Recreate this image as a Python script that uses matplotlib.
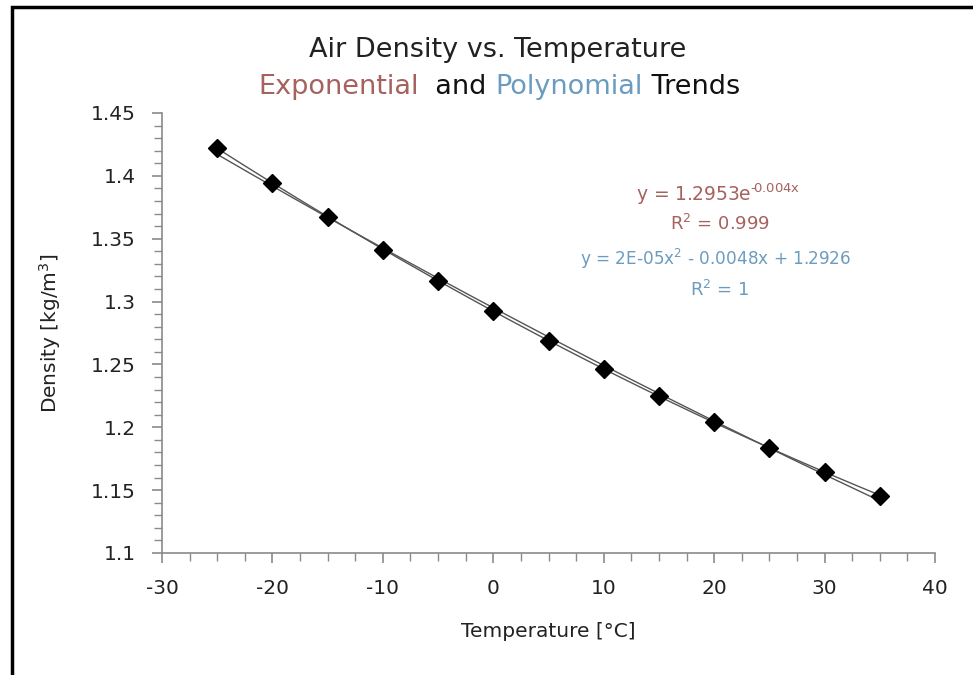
import matplotlib.pyplot as plt
from matplotlib.patches import Rectangle
from matplotlib.ticker import MultipleLocator
import numpy as np

# data
temps = [-25, -20, -15, -10, -5, 0, 5, 10, 15, 20, 25, 30, 35]
density = [1.4224, 1.3943, 1.3673, 1.3413, 1.3163, 1.2922, 1.2690,
           1.2466, 1.2250, 1.2041, 1.1839, 1.1644, 1.1455]

exp_label = 'y = 1.2953e$^{\u2010\\!0.004x}$'
exp_r2 = 'R$^2$ = 0.999'
poly_label = 'y = 2E-05x$^2$ - 0.0048x + 1.2926'
poly_r2 = 'R$^2$ = 1'

RED = '#a5625f'
BLUE = '#6b9cc0'
AXIS = '#8a8a8a'
TXT = '#222222'

plt.rcParams['font.family'] = ['DejaVu Sans']
plt.rcParams['axes.unicode_minus'] = False
plt.rcParams['mathtext.default'] = 'regular'

fig = plt.figure(figsize=(9.73, 6.75), dpi=100)
ax = fig.add_axes([162 / 973, 122 / 675, (935 - 162) / 973, (553 - 113) / 675])

x = np.array(temps, dtype=float)
y = np.array(density)

# trend lines fitted like Excel does
xs = np.linspace(x.min(), x.max(), 200)
b, a = np.polyfit(x, np.log(y), 1)
ax.plot(xs, np.exp(a) * np.exp(b * xs), color='#555555', lw=1.0, zorder=2)
p = np.polyfit(x, y, 2)
ax.plot(xs, np.polyval(p, xs), color='#555555', lw=1.0, zorder=2)

ax.plot(x, y, linestyle='none', marker='D', markersize=9.5,
        color='black', zorder=3)

ax.set_xlim(-30, 40)
ax.set_ylim(1.1, 1.45)
ax.xaxis.set_major_locator(MultipleLocator(10))
ax.xaxis.set_minor_locator(MultipleLocator(2.5))
ax.yaxis.set_major_locator(MultipleLocator(0.05))
ax.yaxis.set_minor_locator(MultipleLocator(0.01))
ax.yaxis.set_major_formatter(plt.FuncFormatter(lambda v, _: f'{v:.2f}'.rstrip('0').rstrip('.')))

for side in ['top', 'right']:
    ax.spines[side].set_visible(False)
for side in ['left', 'bottom']:
    ax.spines[side].set_color(AXIS)
    ax.spines[side].set_linewidth(1.2)
ax.tick_params(which='major', length=7, width=1.2, color=AXIS,
               labelsize=14.5, labelcolor=TXT, pad=12)
ax.tick_params(which='minor', length=6, width=1.0, color=AXIS)

ax.set_xlabel('Temperature [°C]', fontsize=14.5, color=TXT, labelpad=17)
ax.set_ylabel('Density [kg/m$^3$]', fontsize=14.5, color=TXT, labelpad=20)

# equations
fig.text(0.738, 0.7126, exp_label, ha='center', va='center', fontsize=13.5, color=RED)
fig.text(0.740, 0.668, exp_r2, ha='center', va='center', fontsize=13, color=RED)
fig.text(0.735, 0.616, poly_label, ha='center', va='center', fontsize=12.2, color=BLUE)
fig.text(0.740, 0.570, poly_r2, ha='center', va='center', fontsize=13, color=BLUE)

# titles
fig.text(0.511, 0.926, 'Air Density vs. Temperature', ha='center', va='center',
         fontsize=19.5, color=TXT)
parts = [('Exponential', RED), ('  and ', '#111111'),
         ('Polynomial', BLUE), (' Trends', '#111111')]
fig.canvas.draw()
renderer = fig.canvas.get_renderer()
widths = []
texts = []
for s, c in parts:
    t = fig.text(0, 0.871, s, ha='left', va='center', fontsize=19.5, color=c)
    texts.append(t)
    widths.append(t.get_window_extent(renderer).width)
xpos = 499 - sum(widths) / 2
for t, w in zip(texts, widths):
    t.set_x(xpos / 973)
    xpos += w

# frame of the chart area (cropped on right and bottom)
fig.patches.append(Rectangle((12 / 973, -0.1), 1.2, 1 - 7 / 675 + 0.1,
                             transform=fig.transFigure, fill=False,
                             edgecolor='black', linewidth=2.5))

fig.savefig('out.png', dpi=100)
